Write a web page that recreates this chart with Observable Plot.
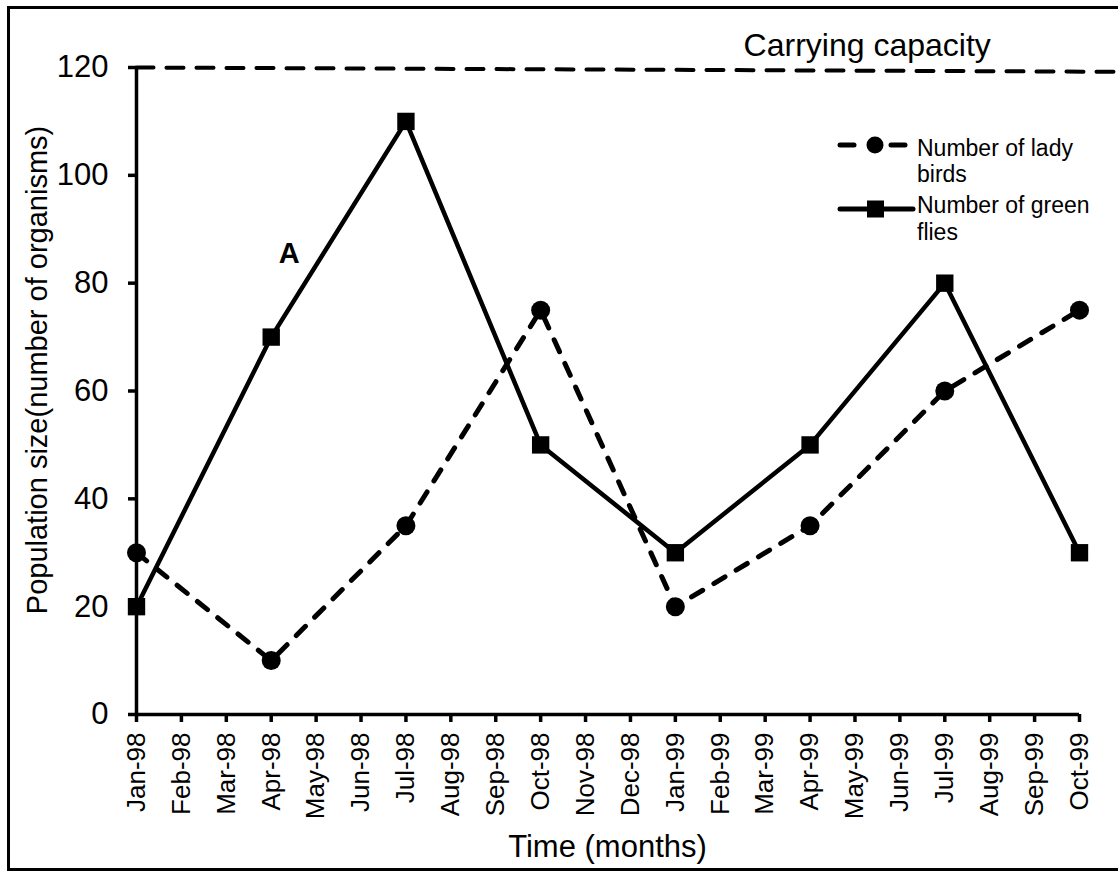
<!DOCTYPE html>
<html><head><meta charset="utf-8">
<script src="https://cdn.jsdelivr.net/npm/d3@7"></script>
<script src="https://cdn.jsdelivr.net/npm/@observablehq/plot@0.6"></script>
<style>
html,body{margin:0;padding:0;background:#fff;}
#wrap{position:relative;width:1118px;height:871px;overflow:hidden;background:#fff;}
#border{position:absolute;left:7px;top:6px;width:1200px;height:859px;border-top:3px solid #000;border-left:3px solid #000;border-bottom:3px solid #000;pointer-events:none;}
</style></head><body><div id="wrap"><div id="border"></div></div>
<script>
const monthNames = ["Jan","Feb","Mar","Apr","May","Jun","Jul","Aug","Sep","Oct","Nov","Dec"];
const months = ["Jan-98","Feb-98","Mar-98","Apr-98","May-98","Jun-98","Jul-98","Aug-98","Sep-98","Oct-98","Nov-98","Dec-98",
                "Jan-99","Feb-99","Mar-99","Apr-99","May-99","Jun-99","Jul-99","Aug-99","Sep-99","Oct-99"];
const sampleMonths = ["Jan-98","Apr-98","Jul-98","Oct-98","Jan-99","Apr-99","Jul-99","Oct-99"];
const ladyBirds = [30,10,35,75,20,35,60,75];
const greenFlies = [20,70,110,50,30,50,80,30];
const yTicks = [0,20,40,60,80,100,120];
const capacityMonths = ["Jan-98","Nov-99"];
const capacityValues = [120,119.2];
const annotationLabels = ["A","Carrying capacity"];
const annotationMonths = [3.4, 13.52];
const annotationValues = [85.5, 124.0];

const xOf = m => { const [mon, yr] = m.split("-"); return (+yr - 98) * 12 + monthNames.indexOf(mon); };
const lady = sampleMonths.map((m, i) => ({x: xOf(m), y: ladyBirds[i]}));
const green = sampleMonths.map((m, i) => ({x: xOf(m), y: greenFlies[i]}));
const capacity = capacityMonths.map((m, i) => ({x: xOf(m), y: capacityValues[i]}));
const FONT = "'Liberation Sans', Arial, Helvetica, sans-serif";

const plot = Plot.plot({
  width: 1118, height: 871,
  marginLeft: 136, marginRight: 39, marginTop: 67, marginBottom: 157,
  style: {fontFamily: FONT, background: "transparent", color: "#000", overflow: "visible"},
  x: {type: "linear", domain: [0, 21]},
  y: {domain: [0, 120]},
  marks: [
    Plot.line(capacity, {x: "x", y: "y", stroke: "#000", strokeWidth: 4, strokeDasharray: "17,13", clip: false}),
    Plot.line(lady, {x: "x", y: "y", stroke: "#000", strokeWidth: 5, strokeDasharray: "13,13", strokeLinecap: "round"}),
    Plot.line(green, {x: "x", y: "y", stroke: "#000", strokeWidth: 4.5}),
    Plot.dot(lady, {x: "x", y: "y", r: 9.5, fill: "#000", symbol: "circle"}),
    Plot.dot(green, {x: "x", y: "y", r: 9.8, fill: "#000", symbol: "square"}),
    Plot.ruleX([0], {y1: 0, y2: 120, stroke: "#000", strokeWidth: 3.5}),
    Plot.ruleY([0], {x1: 0, x2: 21, stroke: "#000", strokeWidth: 3.5}),
    Plot.axisY({ticks: yTicks, tickSize: 8, tickPadding: 20, fontSize: 31, label: null, strokeWidth: 3.5}),
    Plot.axisX({ticks: months.map(xOf), tickFormat: i => months[i], tickRotate: -90, tickSize: 8, tickPadding: 10, fontSize: 26, label: null, strokeWidth: 3.5}),
    Plot.text([0], {x: annotationMonths[0], y: annotationValues[0], text: [annotationLabels[0]], fontSize: 29, fontWeight: "bold", textAnchor: "middle", lineAnchor: "middle"}),
    Plot.text([0], {x: annotationMonths[1], y: annotationValues[1], text: [annotationLabels[1]], fontSize: 32, textAnchor: "start", lineAnchor: "middle"})
  ]
});
document.getElementById("wrap").insertBefore(plot, document.getElementById("border"));

const svg = d3.select(plot);
svg.append("text").attr("x", 607.5).attr("y", 857).attr("text-anchor", "middle")
  .attr("font-size", 31).attr("font-family", FONT).attr("fill", "#000").text("Time (months)");
svg.append("text").attr("transform", "translate(47,370) rotate(-90)").attr("text-anchor", "middle")
  .attr("font-size", 29).attr("font-family", FONT).attr("fill", "#000").text("Population size(number of organisms)");

// legend
const lg = svg.append("g");
lg.append("line").attr("x1", 840).attr("x2", 854).attr("y1", 145).attr("y2", 145).attr("stroke", "#000").attr("stroke-width", 5).attr("stroke-linecap", "round");
lg.append("line").attr("x1", 891).attr("x2", 905).attr("y1", 145).attr("y2", 145).attr("stroke", "#000").attr("stroke-width", 5).attr("stroke-linecap", "round");
lg.append("circle").attr("cx", 875).attr("cy", 145).attr("r", 8.5).attr("fill", "#000");
lg.append("line").attr("x1", 840).attr("x2", 913).attr("y1", 209).attr("y2", 209).attr("stroke", "#000").attr("stroke-width", 5).attr("stroke-linecap", "round");
lg.append("rect").attr("x", 867).attr("y", 200.5).attr("width", 17).attr("height", 17).attr("fill", "#000");
const legendLines = [["Number of lady", 156], ["birds", 182], ["Number of green", 213], ["flies", 240]];
legendLines.forEach(([t, y]) => lg.append("text").attr("x", 917).attr("y", y).attr("text-anchor", "start").attr("font-size", 23)
  .attr("font-family", FONT).attr("fill", "#000").text(t));
</script></body></html>
